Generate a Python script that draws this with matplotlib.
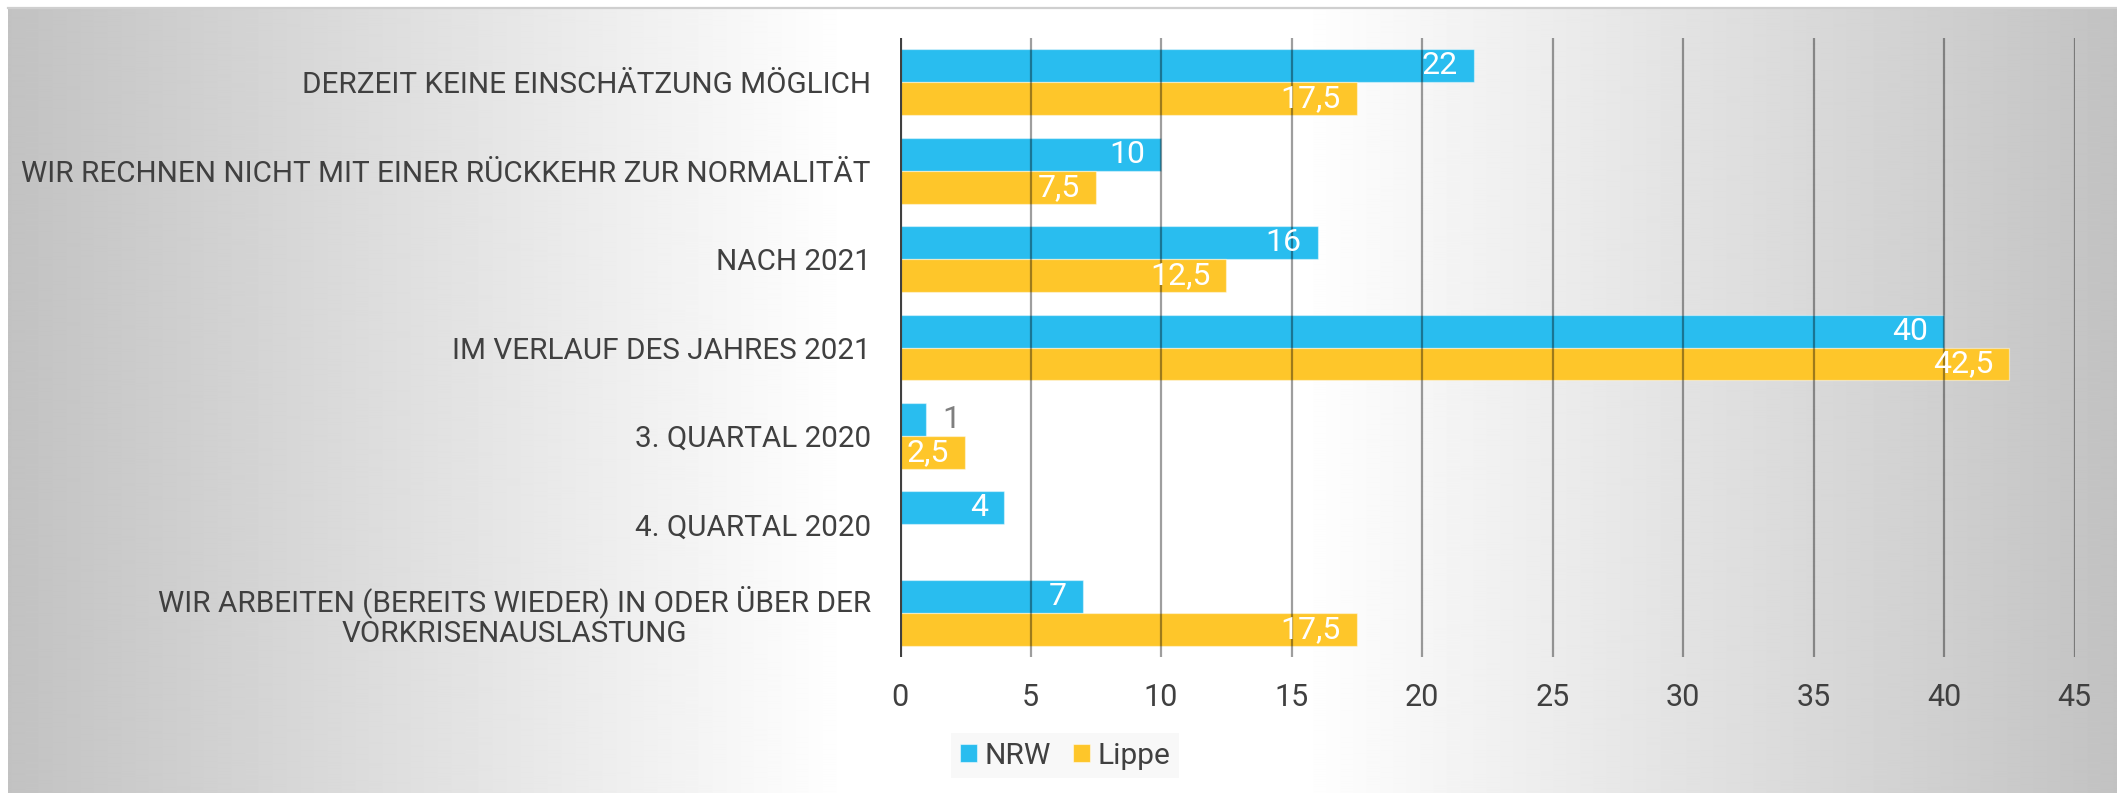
import numpy as np
import matplotlib
matplotlib.use("Agg")
import matplotlib.pyplot as plt
from matplotlib.patches import Patch

plt.rcParams['font.family'] = ['Roboto', 'DejaVu Sans']

categories = [
    "DERZEIT KEINE EINSCHÄTZUNG MÖGLICH",
    "WIR RECHNEN NICHT MIT EINER RÜCKKEHR ZUR NORMALITÄT",
    "NACH 2021",
    "IM VERLAUF DES JAHRES 2021",
    "3. QUARTAL 2020",
    "4. QUARTAL 2020",
    "WIR ARBEITEN (BEREITS WIEDER) IN ODER ÜBER DER\nVORKRISENAUSLASTUNG",
]
nrw = [22, 10, 16, 40, 1, 4, 7]
lippe = [17.5, 7.5, 12.5, 42.5, 2.5, None, 17.5]
series_names = ["NRW", "Lippe"]
x_ticks = [0, 5, 10, 15, 20, 25, 30, 35, 40, 45]

C_NRW = "#29BDEF"
C_LIPPE = "#FEC62A"
TXT = "#404040"

W, H = 2117, 793
fig = plt.figure(figsize=(W / 100, H / 100), dpi=100)
fig.patch.set_facecolor("white")

# background gradient panel
bg = fig.add_axes([8 / W, 0, 1 - 8 / W, (H - 9) / H], zorder=-10)
xs = np.arange(8, W)
g = np.interp(xs, [8, 850, 1300, W], [194, 255, 255, 194]) / 255.0
img = np.tile(g, (10, 1))
bg.imshow(img, cmap="gray", vmin=0, vmax=1, aspect="auto", extent=[0, 1, 0, 1],
          interpolation="bilinear")
bg.set_axis_off()
fig.add_artist(plt.Line2D([8 / W, 1], [1 - 8 / H, 1 - 8 / H], color="#cfcfcf",
                          lw=1.6, transform=fig.transFigure))

ax = fig.add_axes([900 / W, 136 / H, (2074.5 - 900) / W, (657 - 38) / H])
ax.set_facecolor("none")

n = len(categories)
y = np.arange(n)
h = 0.373

nrw_vals = [v if v is not None else 0 for v in nrw]
lip_vals = [v if v is not None else 0 for v in lippe]
ax.barh(y - h / 2, nrw_vals, height=h, color=C_NRW, edgecolor=(1, 1, 1, 0.45),
        linewidth=0.9, zorder=2)
ax.barh(y + h / 2, lip_vals, height=h, color=C_LIPPE, edgecolor=(1, 1, 1, 0.45),
        linewidth=0.9, zorder=2)

ax.set_xlim(0, 45)
ax.set_ylim(n - 0.5, -0.5)
ax.set_xticks(x_ticks)
ax.set_xticklabels([str(t) for t in x_ticks])
ax.set_yticks(y)
ax.set_yticklabels(categories)
for lbl in ax.get_yticklabels():
    lbl.set_multialignment("center")
    lbl.set_linespacing(1.1)

ax.tick_params(axis="x", length=0, pad=19, labelsize=22, labelcolor=TXT)
ax.tick_params(axis="y", length=0, pad=21, labelsize=21.3, labelcolor=TXT)

for s in ax.spines.values():
    s.set_visible(False)

# gridlines on top of bars (translucent)
for t in x_ticks[1:]:
    ax.axvline(t, color="black", alpha=0.38, lw=1.6, zorder=3)
ax.axvline(0, color="#404040", lw=3.0, zorder=4)


def fmt(v):
    if float(v).is_integer():
        return str(int(v))
    return str(v).replace(".", ",")


px_per_unit = (2074.5 - 900) / 45.0
pad_units = 16 / px_per_unit
for vals, yy in ((nrw, y - h / 2), (lippe, y + h / 2)):
    for v, yc in zip(vals, yy):
        if v is None:
            continue
        if v < 2:
            ax.text(v + pad_units, yc, fmt(v), ha="left", va="center", fontsize=23,
                    color="#7f7f7f", zorder=5)
        else:
            ax.text(v - pad_units, yc, fmt(v), ha="right", va="center", fontsize=23,
                    color="white", zorder=5)

handles = [Patch(facecolor=C_NRW, edgecolor=(1, 1, 1, 0.5), lw=0.8, label=series_names[0]),
           Patch(facecolor=C_LIPPE, edgecolor=(1, 1, 1, 0.5), lw=0.8, label=series_names[1])]
leg = fig.legend(handles=handles, loc="center", bbox_to_anchor=(1065 / W, 1 - 755.5 / H),
                 ncol=2, frameon=True, fontsize=21.5, handlelength=0.56, handleheight=0.56,
                 handletextpad=0.25, columnspacing=0.75, borderpad=0.3, fancybox=False)
leg.get_frame().set_facecolor("#f8f8f8")
leg.get_frame().set_edgecolor("none")
leg.get_frame().set_alpha(1)
for t in leg.get_texts():
    t.set_color(TXT)

fig.savefig("out.png", dpi=100, facecolor=fig.get_facecolor())
